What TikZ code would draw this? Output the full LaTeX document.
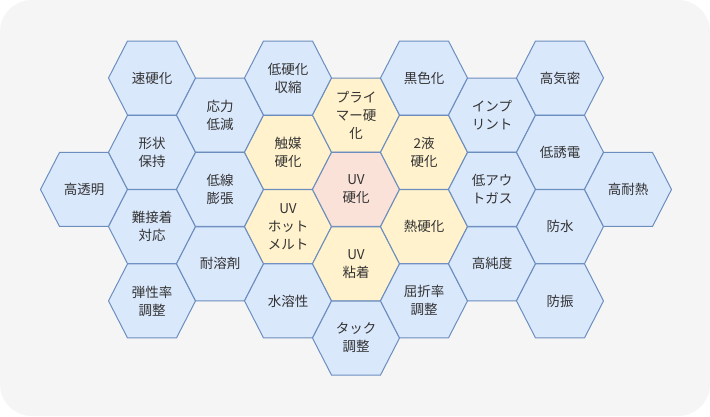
\documentclass[tikz,border=0pt]{standalone}
\usepackage{fontspec}
\setmainfont{Noto Sans CJK JP}
\usepackage{tikz}
\definecolor{panelbg}{RGB}{245,245,245}
\definecolor{hexblue}{RGB}{218,232,252}
\definecolor{hexyellow}{RGB}{255,242,204}
\definecolor{hexpink}{RGB}{250,226,216}
\definecolor{hexborder}{RGB}{108,142,191}
\definecolor{labeltext}{RGB}{51,51,51}

\begin{document}
\begin{tikzpicture}[x=1pt, y=-1pt,
    hexlabel/.style={align=center, inner sep=0pt, text=labeltext, font=\fontsize{13.5}{18}\selectfont}]
    % Panel
    \fill[white] (0,0) rectangle (710,416);
    \fill[panelbg, rounded corners=32pt] (0,0) rectangle (710,416);

    % Hexagons: name/column/half-row/fill/text
    \foreach \nm/\col/\row/\fc/\txt in {
        transparent/0/3/hexblue/{高透明},
        fastcure/1/0/hexblue/{速硬化},
        shape/1/2/hexblue/{形状\\保持},
        adhesion/1/4/hexblue/{難接着\\対応},
        elastic/1/6/hexblue/{弾性率\\調整},
        stress/2/1/hexblue/{応力\\低減},
        lowexp/2/3/hexblue/{低線\\膨張},
        solvent/2/5/hexblue/{耐溶剤},
        lowshrink/3/0/hexblue/{低硬化\\収縮},
        catalyst/3/2/hexyellow/{触媒\\硬化},
        hotmelt/3/4/hexyellow/{UV\\ホット\\メルト},
        watersol/3/6/hexblue/{水溶性},
        primer/4/1/hexyellow/{プライ\\マー硬\\化},
        uvcure/4/3/hexpink/{UV\\硬化},
        uvpsa/4/5/hexyellow/{UV\\粘着},
        tack/4/7/hexblue/{タック\\調整},
        black/5/0/hexblue/{黒色化},
        twopart/5/2/hexyellow/{2液\\硬化},
        thermal/5/4/hexyellow/{熱硬化},
        refract/5/6/hexblue/{屈折率\\調整},
        imprint/6/1/hexblue/{インプ\\リント},
        outgas/6/3/hexblue/{低アウ\\トガス},
        purity/6/5/hexblue/{高純度},
        airtight/7/0/hexblue/{高気密},
        lowdk/7/2/hexblue/{低誘電},
        waterproof/7/4/hexblue/{防水},
        vibration/7/6/hexblue/{防振},
        heatres/8/3/hexblue/{高耐熱}}
    {
        \coordinate (\nm-c) at ({84+68*\col},{78+37.15*\row});
        \draw[hexborder, line width=1pt, fill=\fc] (\nm-c) ++(-43.5,0) -- ++(19,-37) -- ++(49,0)
            -- ++(19,37) -- ++(-19,37) -- ++(-49,0) -- cycle;
        \node[hexlabel] (\nm) at (\nm-c) {\txt};
    }
\end{tikzpicture}
\end{document}
